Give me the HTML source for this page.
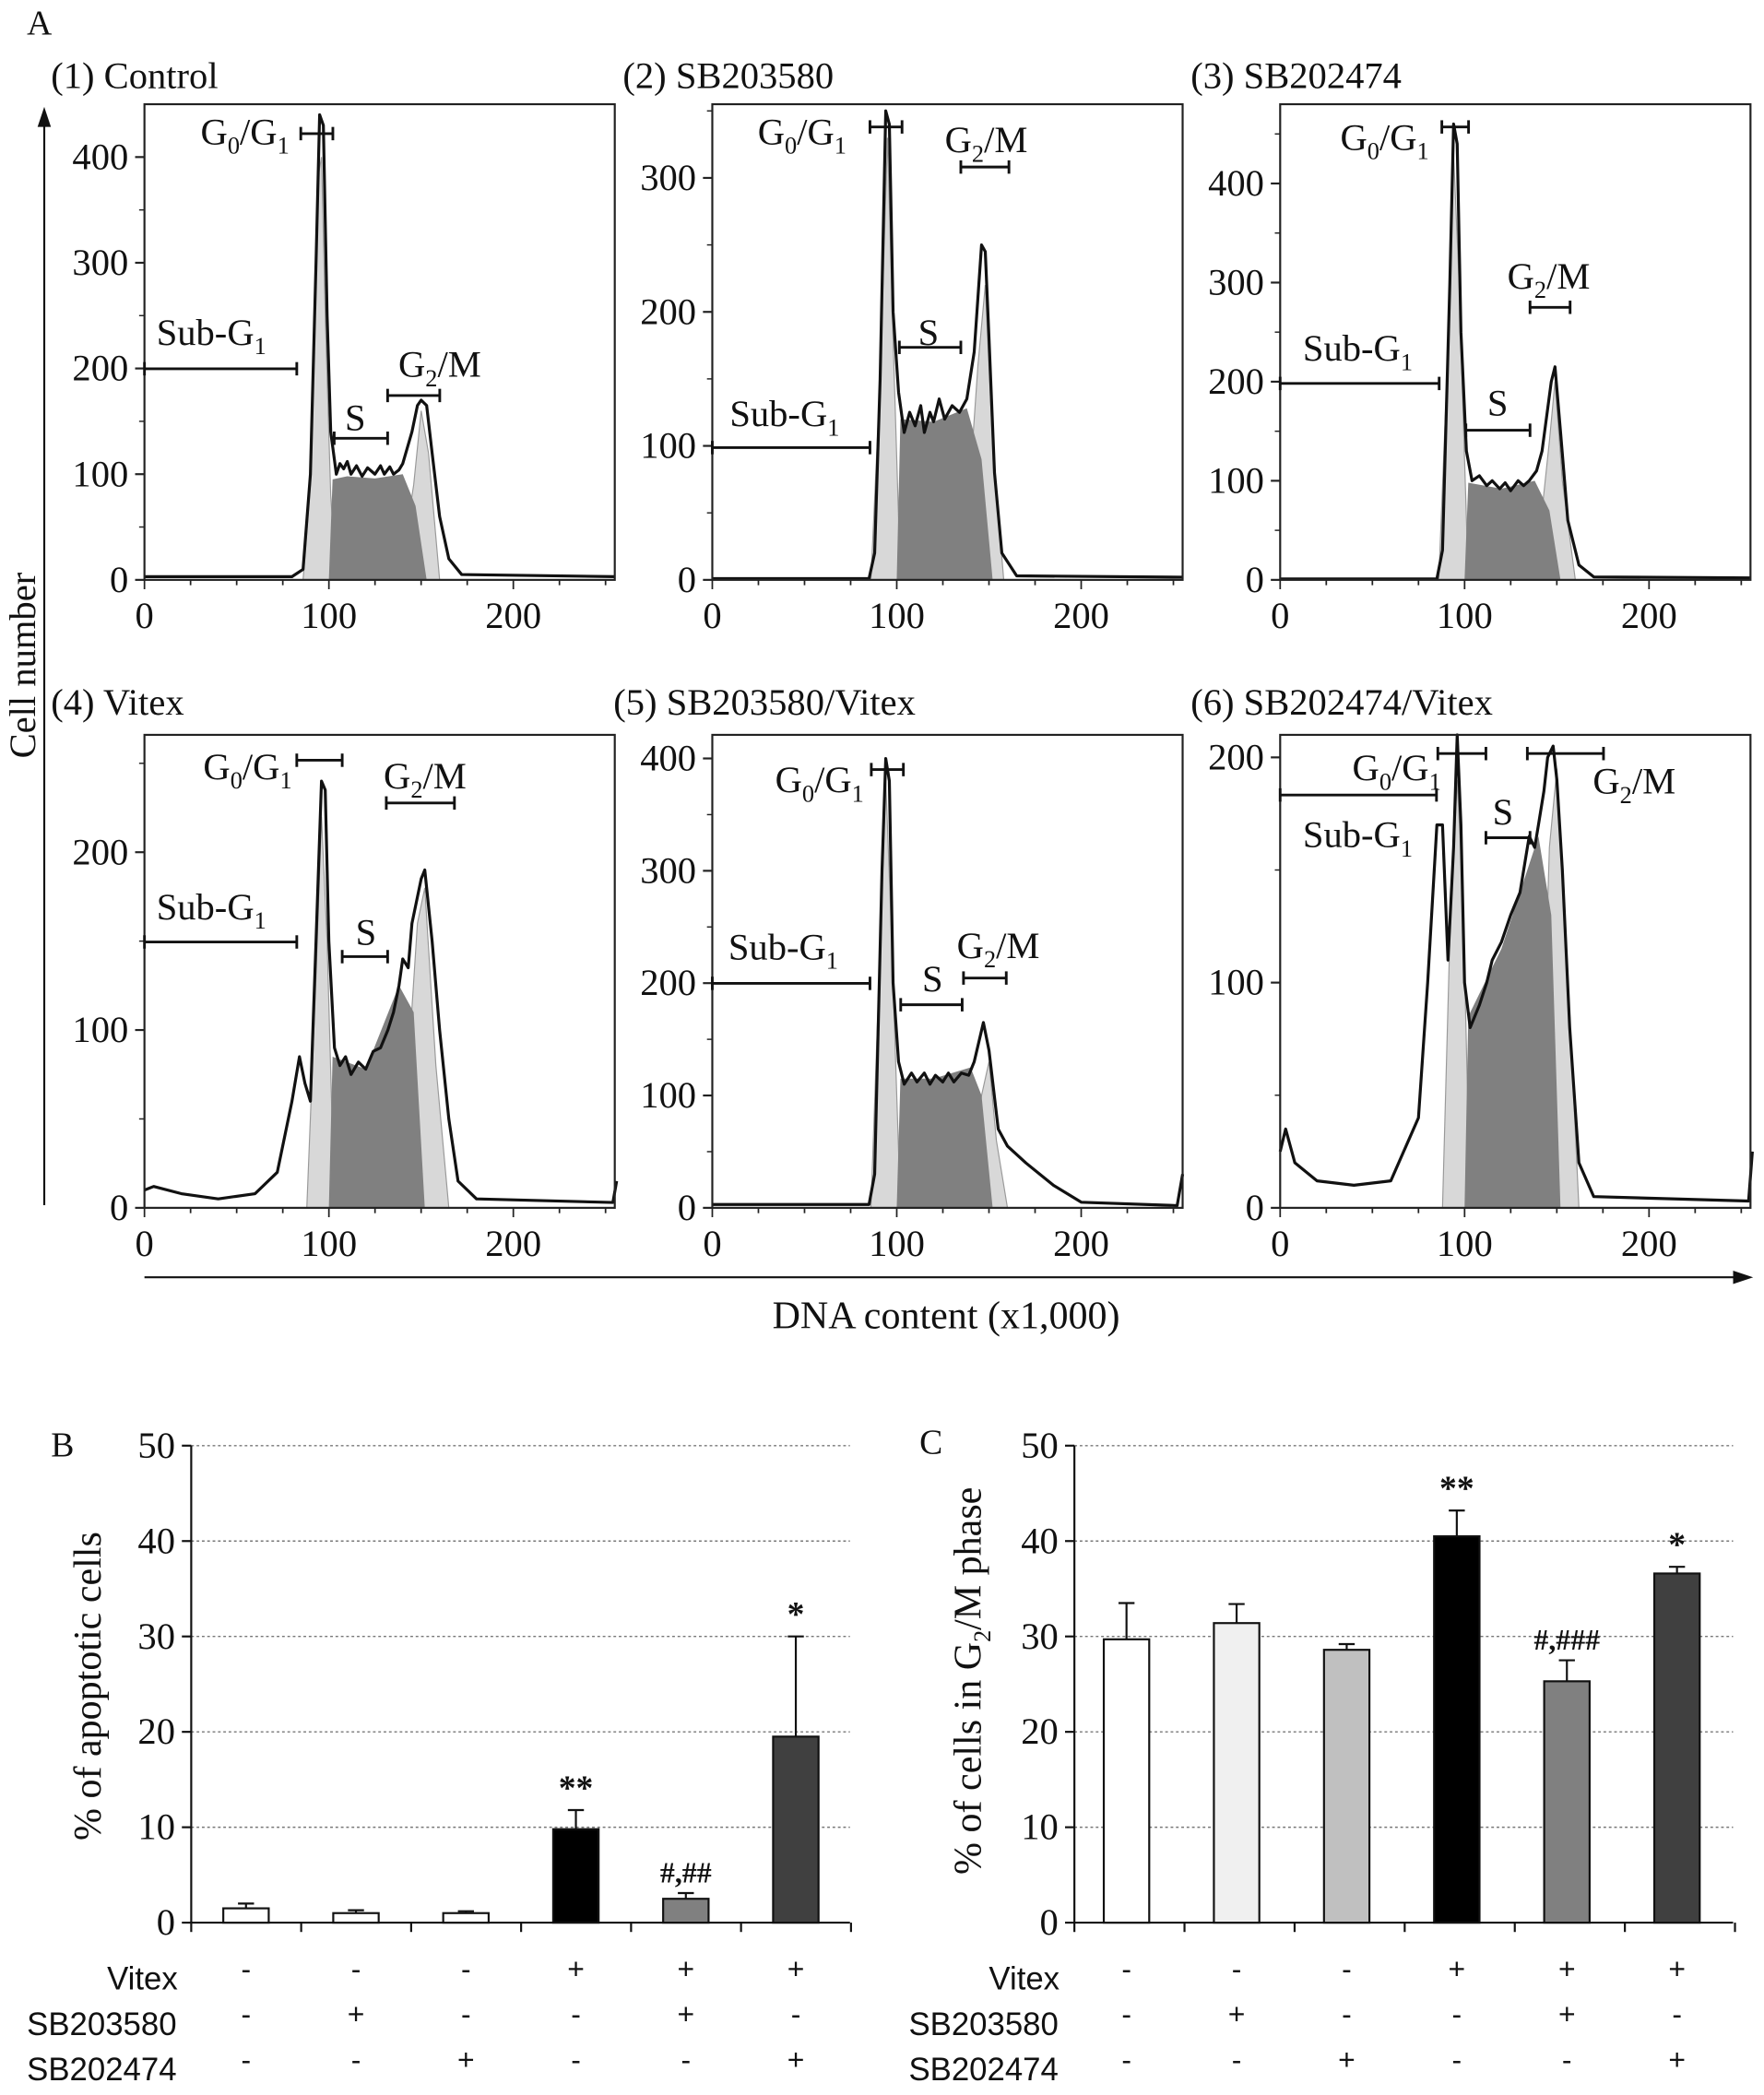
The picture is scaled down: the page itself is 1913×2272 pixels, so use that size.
<!DOCTYPE html>
<html><head><meta charset="utf-8"><style>
html,body{margin:0;padding:0;background:#fff}
svg{display:block}
text{font-family:"Liberation Serif",serif;fill:#111}
.sans{font-family:"Liberation Sans",sans-serif}
</style></head><body>
<svg id="fig" width="1913" height="2272" viewBox="0 0 1320 1568" xmlns="http://www.w3.org/2000/svg"></svg>
<script>
// ---------- Panel A data (DNA content x1000, cell count) ----------
const p1Outline=[[0,3],[80,3],[86,10],[90,100],[93,300],[95,440],[97,430],[99,250],[101,140],[104,100],[106,110],[108,105],[110,112],[112,100],[115,108],[118,98],[121,106],[125,100],[128,108],[130,100],[133,107],[135,100],[138,104],[140,110],[145,140],[148,165],[150,170],[153,165],[156,120],[160,60],[165,20],[172,5],[255,3]];
const p2Outline=[[0,1],[85,1],[88,20],[91,150],[94,350],[96,340],[98,200],[101,140],[104,110],[107,125],[110,115],[113,130],[115,110],[118,125],[120,118],[123,135],[126,120],[130,130],[134,125],[138,135],[142,170],[146,250],[148,245],[150,180],[153,80],[157,20],[165,3],[255,2]];
const p3Outline=[[0,1],[85,1],[88,30],[92,300],[94,460],[96,440],[98,250],[101,130],[104,100],[108,105],[112,95],[115,100],[119,92],[122,98],[125,90],[129,100],[132,95],[135,100],[139,110],[142,130],[147,200],[149,215],[152,150],[156,60],[162,15],[170,3],[255,2]];
const p4Outline=[[0,10],[5,12],[20,8],[40,5],[60,8],[72,20],[80,60],[84,85],[87,70],[90,60],[93,150],[96,240],[98,235],[100,150],[103,90],[106,80],[109,85],[112,75],[116,82],[120,78],[124,88],[128,90],[132,100],[135,110],[138,125],[140,140],[143,135],[145,160],[150,185],[152,190],[156,150],[160,100],[165,50],[170,15],[180,5],[254,3],[256,15]];
const p5Outline=[[0,3],[85,3],[88,30],[92,300],[94,400],[96,380],[98,200],[101,130],[104,110],[108,120],[111,112],[115,120],[118,110],[121,118],[125,112],[128,120],[131,112],[135,120],[139,118],[142,130],[147,165],[150,140],[155,70],[160,55],[170,40],[185,20],[200,5],[252,2],[255,30]];
const p6Outline=[[0,25],[3,35],[8,20],[20,12],[40,10],[60,12],[75,40],[80,100],[85,170],[88,170],[91,110],[94,160],[96,210],[98,170],[100,100],[103,80],[108,90],[112,100],[115,110],[120,118],[125,130],[130,140],[135,165],[138,160],[140,170],[143,185],[145,200],[148,205],[150,190],[153,150],[157,80],[162,20],[170,5],[254,3],[256,25]];
const p1G1=[[86,0],[90,90],[94,380],[96,400],[98,250],[101,80],[104,0]], p1S=[[100,0],[102,95],[110,98],[125,96],[140,100],[147,70],[153,0]], p1G2=[[138,0],[146,90],[150,160],[154,120],[160,0]];
const p2G1=[[86,0],[91,150],[95,330],[98,180],[102,0]], p2S=[[100,0],[102,120],[120,118],[138,128],[146,90],[152,0]], p2G2=[[136,0],[144,160],[148,220],[152,100],[158,0]];
const p3G1=[[86,0],[92,280],[94,430],[97,300],[102,0]], p3S=[[100,0],[102,98],[120,92],[138,100],[146,70],[152,0]], p3G2=[[138,0],[146,140],[149,200],[153,100],[160,0]];
const p4G1=[[88,0],[93,130],[96,220],[99,150],[103,0]], p4S=[[100,0],[102,85],[120,78],[138,125],[146,110],[152,0]], p4G2=[[138,0],[148,160],[152,180],[158,80],[165,0]];
const p5G1=[[86,0],[92,280],[94,380],[97,250],[102,0]], p5S=[[100,0],[102,115],[120,115],[140,125],[146,100],[152,0]], p5G2=[[138,0],[146,100],[150,130],[154,60],[160,0]];
const p6G1=[[88,0],[92,120],[96,190],[99,140],[103,0]], p6S=[[100,0],[102,85],[120,115],[140,165],[147,130],[152,0]], p6G2=[[140,0],[146,160],[150,195],[155,120],[162,0]];
const xTicksA=[0,100,200];
const p1Y=[0,100,200,300,400], p2Y=[0,100,200,300], p3Y=[0,100,200,300,400], p4Y=[0,100,200], p5Y=[0,100,200,300,400], p6Y=[0,100,200];
// ---------- Panel B / C data ----------
const groups=['g1','g2','g3','g4','g5','g6'];
const apoptotic=[1.5,1.0,1.0,9.8,2.5,19.5];
const apoptoticErr=[0.5,0.3,0.2,2.0,0.6,10.5];
const g2m=[29.7,31.4,28.6,40.5,25.3,36.6];
const g2mErr=[3.8,2.0,0.6,2.7,2.2,0.7];
const barTicks=[0,10,20,30,40,50];
const sigB=['','','','**','#,##','*'];
const sigC=['','','','**','#,###','*'];
const vitexRow=['-','-','-','+','+','+'];
const sb580Row=['-','+','-','-','+','-'];
const sb474Row=['-','-','+','-','-','+'];
const colorsB=['#fff','#fff','#fff','#000','#808080','#404040'];
const colorsC=['#fff','#f0f0f0','#c0c0c0','#000','#808080','#404040'];

const NS='http://www.w3.org/2000/svg', svg=document.getElementById('fig');
function E(tag,attrs,parent){const e=document.createElementNS(NS,tag);for(const k in attrs)e.setAttribute(k,attrs[k]);(parent||svg).appendChild(e);return e;}
function T(x,y,str,size,parent,anchor){const e=E('text',{x:x,y:y,'font-size':size||28,'text-anchor':anchor||'start'},parent);e.textContent=str;return e;}
function Gsub(x,y,base,sub,rest,parent,size){size=size||28;const e=E('text',{x:x,y:y,'font-size':size},parent);
 const parts=[[base,0],[sub,1]];if(rest)parts.push(...rest);
 for(const p of parts){const ts=E('tspan',{},e);if(p[1]===1){ts.setAttribute('font-size',size*0.65);ts.setAttribute('dy',7);}ts.textContent=p[0];}
 return e;}

const panels=[
 {name:'control',title:'(1) Control',tx:38,ty:66,x0:108,x1:460,yTop:78,yBot:434,ymax:450,out:p1Outline,g1:p1G1,s:p1S,g2:p1G2,yt:p1Y},
 {name:'sb203580',title:'(2) SB203580',tx:466,ty:66,x0:533,x1:885,yTop:78,yBot:434,ymax:355,out:p2Outline,g1:p2G1,s:p2S,g2:p2G2,yt:p2Y},
 {name:'sb202474',title:'(3) SB202474',tx:891,ty:66,x0:958,x1:1310,yTop:78,yBot:434,ymax:480,out:p3Outline,g1:p3G1,s:p3S,g2:p3G2,yt:p3Y},
 {name:'vitex',title:'(4) Vitex',tx:38,ty:535,x0:108,x1:460,yTop:550,yBot:904,ymax:266,out:p4Outline,g1:p4G1,s:p4S,g2:p4G2,yt:p4Y},
 {name:'sb203580-vitex',title:'(5) SB203580/Vitex',tx:459,ty:535,x0:533,x1:885,yTop:550,yBot:904,ymax:421,out:p5Outline,g1:p5G1,s:p5S,g2:p5G2,yt:p5Y},
 {name:'sb202474-vitex',title:'(6) SB202474/Vitex',tx:891,ty:535,x0:958,x1:1310,yTop:550,yBot:904,ymax:210,out:p6Outline,g1:p6G1,s:p6S,g2:p6G2,yt:p6Y}
];
T(20,26,'A',26);
panels.forEach(p=>{
 const g=E('g',{});
 
 
 const sx=v=>p.x0+v*(p.x1-p.x0)/255, sy=v=>p.yBot-v*(p.yBot-p.yTop)/p.ymax;
 const t=T(p.tx,p.ty,p.title,28,g);
 
 
 const pts=a=>a.map(q=>sx(q[0]).toFixed(1)+','+sy(q[1]).toFixed(1)).join(' ');
 const f1=E('polygon',{points:pts(p.g1),fill:'#d8d8d8',stroke:'#999','stroke-width':0.8},g);
 
 
 const f3=E('polygon',{points:pts(p.g2),fill:'#d8d8d8',stroke:'#999','stroke-width':0.8},g);
 
 
 const f2=E('polygon',{points:pts(p.s),fill:'#808080',stroke:'none'},g);
 
 
 const ol=E('polyline',{points:pts(p.out),fill:'none',stroke:'#111','stroke-width':2.2,'stroke-linejoin':'round'},g);
 
 
 const box=E('rect',{x:p.x0,y:p.yTop,width:p.x1-p.x0,height:p.yBot-p.yTop,fill:'none',stroke:'#222','stroke-width':1.5},g);
 
 
 p.yt.forEach(v=>{E('line',{x1:p.x0-7,x2:p.x0,y1:sy(v),y2:sy(v),stroke:'#222','stroke-width':1.5},g);
  const l=T(p.x0-12,sy(v)+9,String(v),28,g,'end');
  
  
  const m=sy(v+50); if(m>p.yTop) E('line',{x1:p.x0-4,x2:p.x0,y1:m,y2:m,stroke:'#222','stroke-width':1},g);});
 for(let v=0;v<=250;v+=25){E('line',{x1:sx(v),x2:sx(v),y1:p.yBot,y2:p.yBot+(v%100===0?7:4),stroke:'#222','stroke-width':1.2},g);}
 xTicksA.forEach(v=>{const l=T(sx(v),p.yBot+36,String(v),28,g,'middle');
  
  });
});
function bracket(x1,x2,y){E('line',{x1:x1,x2:x2,y1:y,y2:y,stroke:'#111','stroke-width':2});E('line',{x1:x1,x2:x1,y1:y-5,y2:y+5,stroke:'#111','stroke-width':2});E('line',{x1:x2,x2:x2,y1:y-5,y2:y+5,stroke:'#111','stroke-width':2});}
function subG1(tx,ty,x1,x2,y){Gsub(tx,ty,'Sub-G','1');bracket(x1,x2,y);}
function g0g1(tx,ty,x1,x2,y){Gsub(tx,ty,'G','0',[['/G',0],['1',1]]);const last=svg.lastChild;last.children[2].setAttribute('dy',-7);bracket(x1,x2,y);}
function g2m_(tx,ty,x1,x2,y){Gsub(tx,ty,'G','2',[['/M',0]]);svg.lastChild.children[2].setAttribute('dy',-7);bracket(x1,x2,y);}
function sph(tx,ty,x1,x2,y){T(tx,ty,'S',28);bracket(x1,x2,y);}
g0g1(150,108,225,249,100);subG1(117,258,108,222,276);sph(258,322,250,290,328);g2m_(298,282,290,329,296);
g0g1(567,108,651,675,95);g2m_(707,114,719,755,125);sph(687,258,673,719,260);subG1(546,319,533,651,335);
g0g1(1003,112,1079,1099,95);g2m_(1128,216,1145,1175,230);subG1(975,270,958,1077,287);sph(1113,311,1097,1145,322);
g0g1(152,583,222,256,569);g2m_(287,590,289,340,601);subG1(117,688,108,222,705);sph(266,707,256,290,716);
g0g1(580,593,652,676,576);g2m_(716,717,721,753,732);sph(690,742,674,720,752);subG1(545,718,533,651,736);
g0g1(1012,584,1076,1112,564);g2m_(1192,594,1143,1200,564);subG1(975,634,958,1075,595);sph(1117,617,1112,1145,627);
E('line',{x1:33,x2:33,y1:902,y2:92,stroke:'#111','stroke-width':1.5});
E('polygon',{points:'33,80 28,95 38,95',fill:'#111'});
const yl=T(0,0,'Cell number',28,null,'middle');yl.setAttribute('transform','translate(26,498) rotate(-90)');


E('line',{x1:108,x2:1298,y1:956,y2:956,stroke:'#111','stroke-width':1.5});
E('polygon',{points:'1312,956 1297,951 1297,961',fill:'#111'});
const xl=T(708,994,'DNA content (x1,000)',29,null,'middle');



function barChart(o){
 const g=E('g',{});
 
 
 const y0=1439,y50=1082,sy=v=>y0-v*(y0-y50)/50;
 const bx=i=>o.c0+i*o.step;
 barTicks.forEach(v=>{if(v>0)E('line',{x1:o.ax,x2:o.ax2,y1:sy(v),y2:sy(v),stroke:'#777','stroke-width':1,'stroke-dasharray':'2,2'},g);
  E('line',{x1:o.ax-7,x2:o.ax,y1:sy(v),y2:sy(v),stroke:'#111','stroke-width':1.5},g);
  const l=T(o.ax-12,sy(v)+9,String(v),28,g,'end');
  
  });
 groups.forEach((k,i)=>{const v=o.vals[i],e=o.err[i],x=bx(i);
  E('line',{x1:x,x2:x,y1:sy(v),y2:sy(v+e),stroke:'#111','stroke-width':1.5},g);
  E('line',{x1:x-6,x2:x+6,y1:sy(v+e),y2:sy(v+e),stroke:'#111','stroke-width':1.5},g);
  const r=E('rect',{x:x-17,y:sy(v),width:34,height:y0-sy(v),fill:o.colors[i],stroke:'#111','stroke-width':1.5},g);
  
  
  if(o.sig[i]){const s=T(x,sy(v+e)-8,o.sig[i],o.sig[i].includes('#')?22:26,g,'middle');s.setAttribute('font-weight','bold');
   
   }
  [[vitexRow,1481],[sb580Row,1515],[sb474Row,1549]].forEach(([row,yy])=>{T(x,yy,row[i],22,g,'middle').setAttribute('class','sans');});
 });
 E('line',{x1:o.ax,x2:o.ax,y1:y50,y2:y0,stroke:'#111','stroke-width':1.5},g);
 E('line',{x1:o.ax,x2:o.ax2,y1:y0,y2:y0,stroke:'#111','stroke-width':1.5},g);
 for(let i=0;i<=6;i++){const x=o.ax+i*o.step;E('line',{x1:x,x2:x,y1:y0,y2:y0+7,stroke:'#111','stroke-width':1.5},g);}
 [['Vitex',1481,o.lx+60],['SB203580',1515,o.lx],['SB202474',1549,o.lx]].forEach(([s,yy,xx])=>{const t=T(xx,yy+8,s,24,g);t.setAttribute('class','sans');});
 T(o.lbx,o.lby,o.letter,26,g);
 return {g,sy};
}
barChart({name:'chart-b-apoptosis',ax:143,ax2:636,c0:184,step:82.3,vals:apoptotic,err:apoptoticErr,colors:colorsB,sig:sigB,lx:20,letter:'B',lbx:38,lby:1090});
const yb=T(0,0,'% of apoptotic cells',29,null,'middle');yb.setAttribute('transform','translate(75,1262) rotate(-90)');


barChart({name:'chart-c-g2m',ax:804,ax2:1297,c0:843,step:82.4,vals:g2m,err:g2mErr,colors:colorsC,sig:sigC,lx:680,letter:'C',lbx:688,lby:1088});
const yc=E('text',{'font-size':29,'text-anchor':'middle',transform:'translate(734,1258) rotate(-90)'});


[['% of cells in G',0],['2',1],['/M phase',2]].forEach(p=>{const ts=E('tspan',{},yc);if(p[1]===1){ts.setAttribute('font-size',18);ts.setAttribute('dy',7);}if(p[1]===2)ts.setAttribute('dy',-7);ts.textContent=p[0];});
</script>
</body></html>
